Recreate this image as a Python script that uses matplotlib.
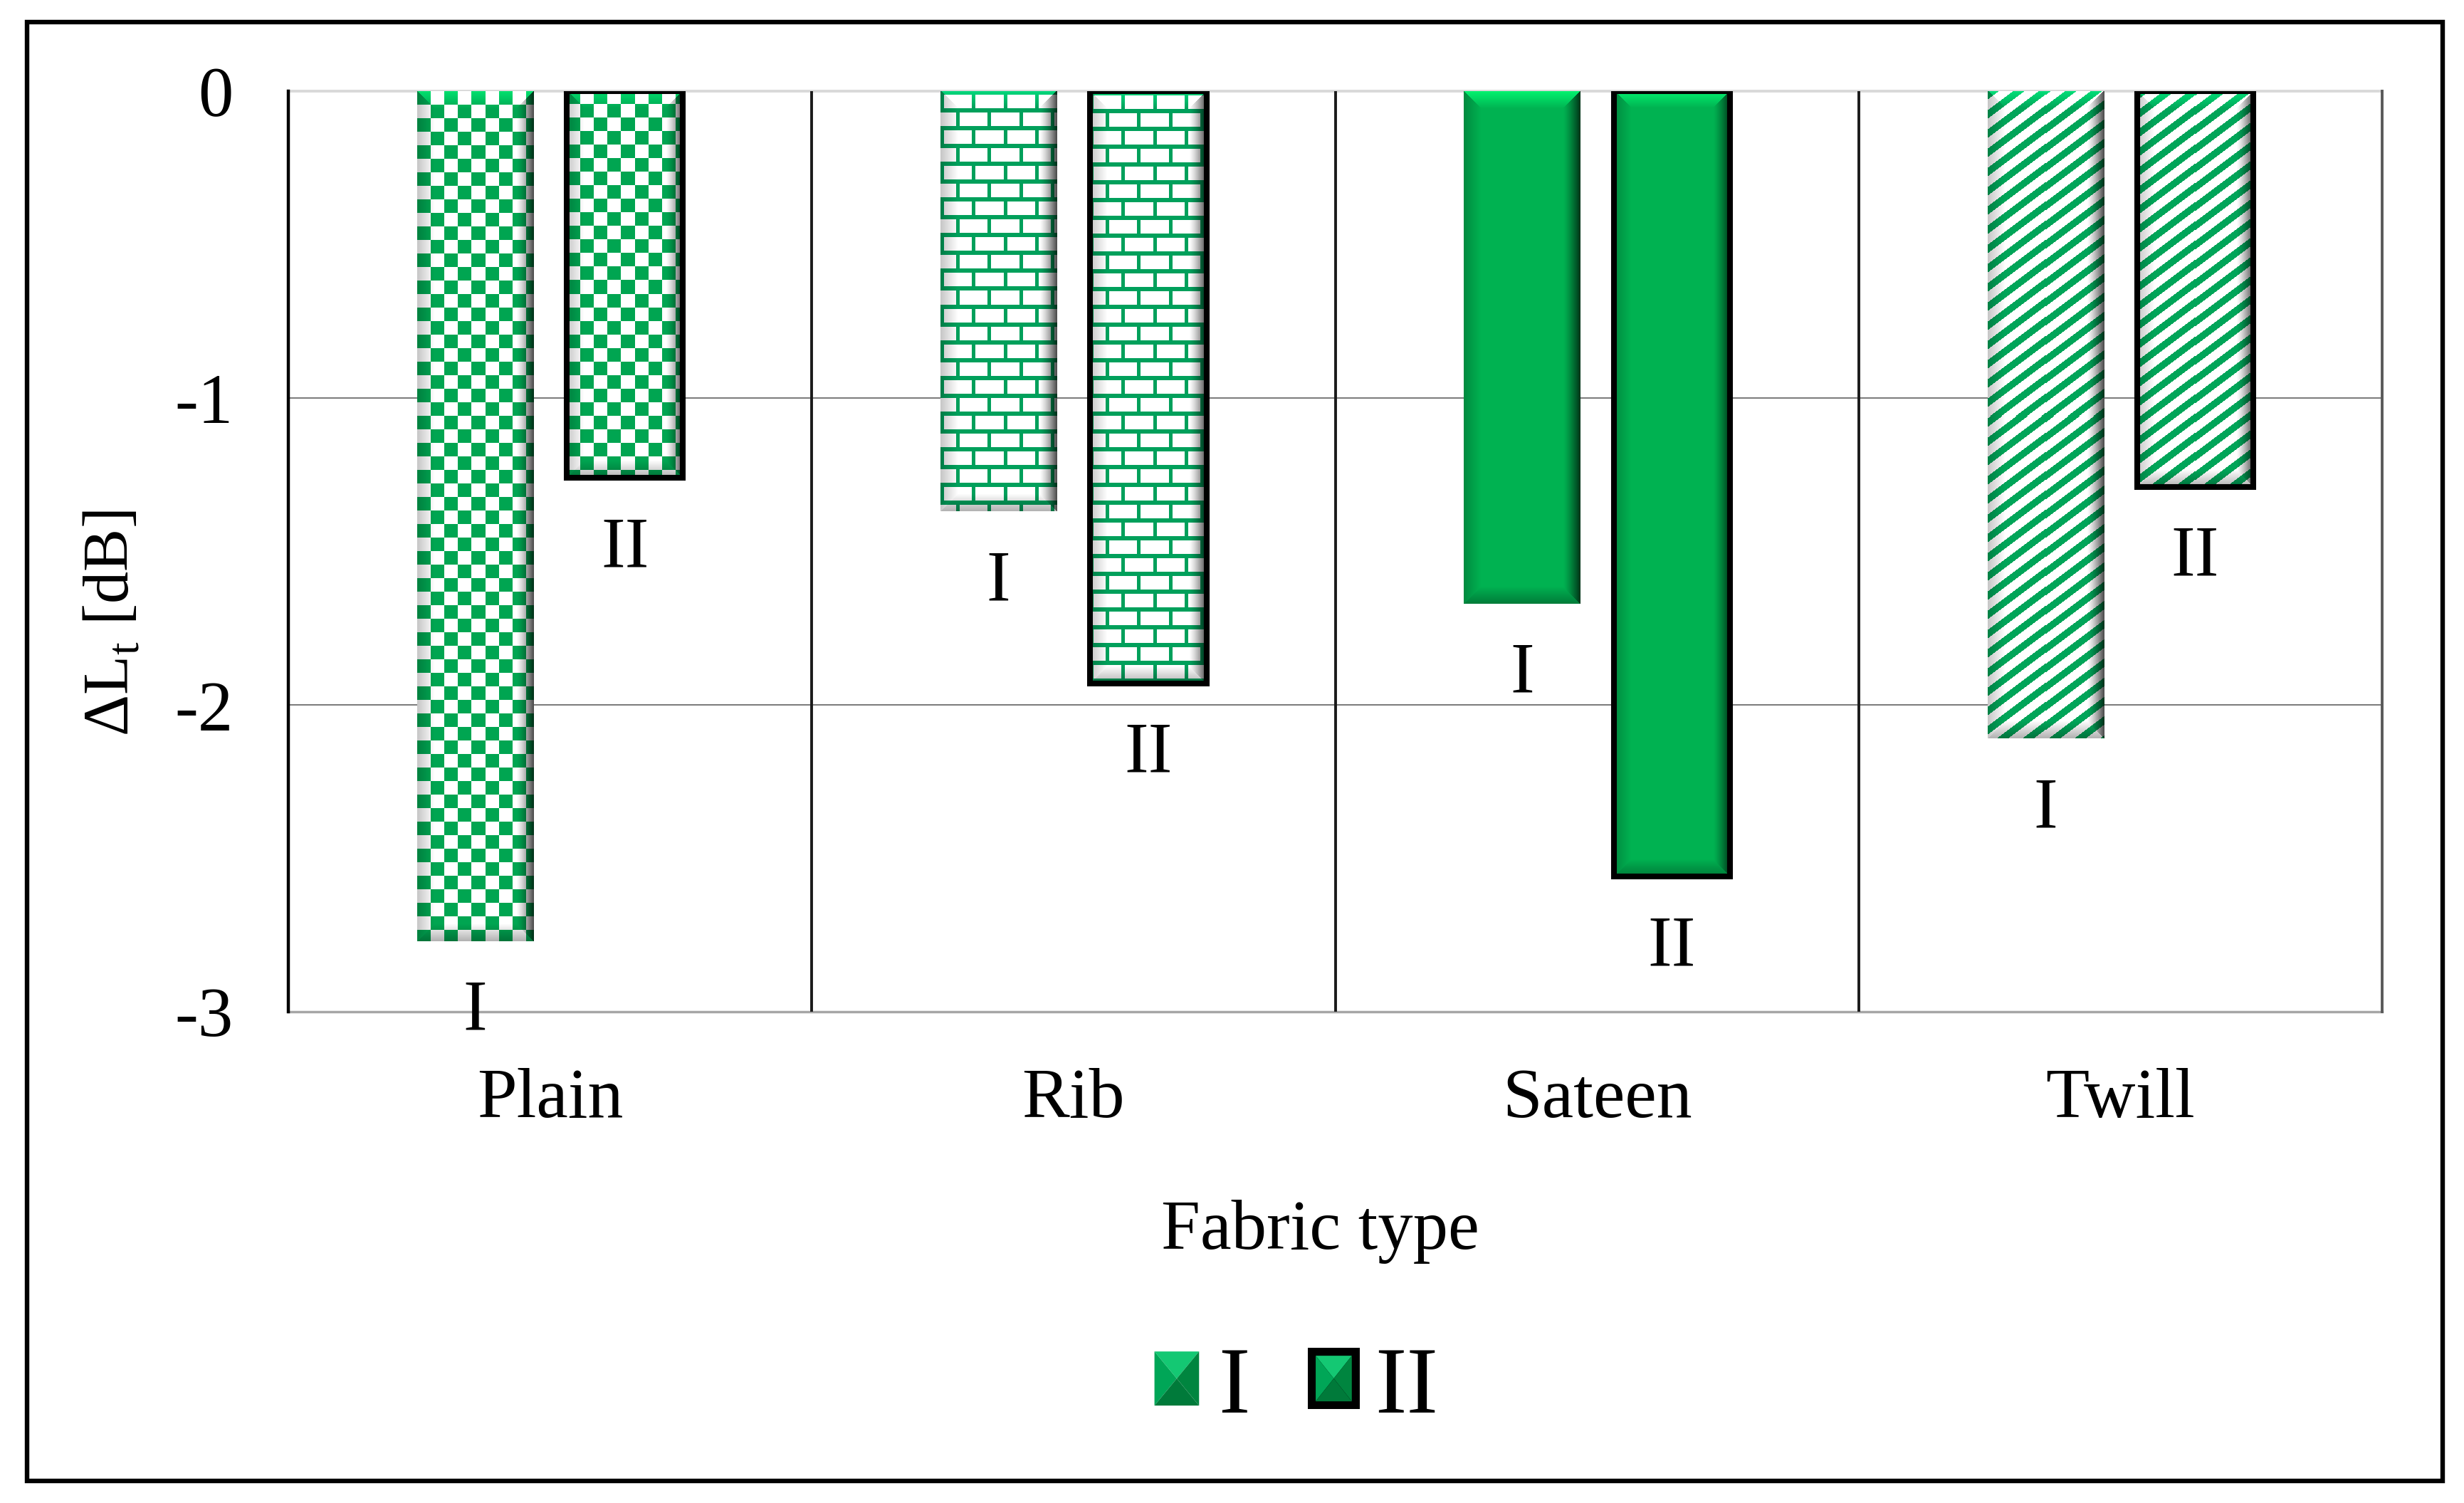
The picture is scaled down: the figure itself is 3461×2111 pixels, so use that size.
import numpy as np
import matplotlib
matplotlib.use('Agg')
import matplotlib.pyplot as plt
from matplotlib.patches import Rectangle, Polygon

plt.rcParams['font.family'] = ['Liberation Serif', 'DejaVu Serif']
plt.rcParams['mathtext.fontset'] = 'custom'
plt.rcParams['mathtext.rm'] = 'Liberation Serif'

# data
fabrics = ['Plain', 'Rib', 'Sateen', 'Twill']
series_names = ['I', 'II']
dlt_I = [-2.77, -1.37, -1.67, -2.11]
dlt_II = [-1.26, -1.93, -2.56, -1.29]
y_ticks = [-3, -2, -1, 0]
y_tick_labels = ['-3', '-2', '-1', '0']

fill_styles = ['checker', 'brick', 'solid', 'stripe']
green = {'checker': (0.0, 0.65, 0.32), 'brick': (0.0, 0.63, 0.36),
         'solid': (0.0, 0.70, 0.32), 'stripe': (0.0, 0.65, 0.35)}

W, H = 3461, 2111
fig = plt.figure(figsize=(W / 100, H / 100), dpi=100)
ax = fig.add_axes([405 / W, 1 - 1421 / H, (3346 - 405) / W, (1421 - 128) / H])
ax.set_xlim(-0.5, 3.5)
ax.set_ylim(-3, 0)


def pattern_mask(kind, r, c):
    if kind == 'checker':
        return ((r // 19 + c // 19) % 2 == 0)
    if kind == 'brick':
        row = r // 25
        return (r % 25 < 6) | (((c + (row % 2) * 22) % 44) < 5)
    if kind == 'stripe':
        u = r + 0.75 * c
        return (u % 27) < 12
    return np.ones_like(r + c, dtype=bool)


def bar_image(kind, hpx, wpx, b=24):
    r = np.arange(hpx)[:, None] + np.zeros((1, wpx), dtype=int)
    c = np.arange(wpx)[None, :] + np.zeros((hpx, 1), dtype=int)
    m = pattern_mask(kind, r, c)[..., None]
    g = np.array(green[kind])
    img = np.where(m, g, np.array([1.0, 1.0, 1.0]))
    d = np.stack([c, wpx - 1 - c, r, hpx - 1 - r]).astype(float)
    side = np.argmin(d, axis=0)
    t = np.clip(1 - d.min(axis=0) / b, 0, 1)
    mult = np.ones((hpx, wpx))
    mult = np.where(side == 0, 1 - 0.22 * t, mult)
    mult = np.where(side == 1, 1 - 0.70 * t ** 1.3, mult)
    mult = np.where(side == 3, 1 - 0.30 * t, mult)
    mult = np.where(side == 2, 1 + 0.35 * t, mult)
    img = np.clip(img * mult[..., None], 0, 1)
    return img


# gridlines and frame lines
for yv in [-1, -2]:
    ax.axhline(yv, color='#6e6e6e', lw=1.3, zorder=0.5)
ax.axhline(0, color='#d9d9d9', lw=2.8, zorder=0.6, clip_on=False)
ax.axhline(-3, color='#a6a6a6', lw=2.5, zorder=0.6, clip_on=False)
for xv in [0.5, 1.5, 2.5]:
    ax.axvline(xv, color='#1a1a1a', lw=2.8, zorder=0.7)
ax.axvline(3.5, color='#595959', lw=2.8, zorder=0.7, clip_on=False)
for s in ['top', 'right', 'bottom']:
    ax.spines[s].set_visible(False)
ax.spines['left'].set_color('black')
ax.spines['left'].set_linewidth(3.2)
ax.spines['left'].set_zorder(4)

x = np.arange(len(fabrics))
off = 0.143
bw = 0.222
bars_I = ax.bar(x - off, dlt_I, bw, facecolor='none', edgecolor='none', zorder=3)
bars_II = ax.bar(x + off, dlt_II, bw, facecolor='none', edgecolor='black', linewidth=5.8, zorder=3)

for bars in [bars_I, bars_II]:
    for i, bar in enumerate(bars):
        x0, x1 = bar.get_x(), bar.get_x() + bar.get_width()
        y0, y1 = 0, bar.get_height()
        p = ax.transData.transform([[x0, y0], [x1, y1]])
        wpx = int(round(abs(p[1, 0] - p[0, 0])))
        hpx = int(round(abs(p[1, 1] - p[0, 1])))
        img = bar_image(fill_styles[i], hpx, wpx)
        ax.imshow(img, extent=(x0, x1, y1, y0), origin='upper', aspect='auto',
                  interpolation='nearest', zorder=2)

ax.set_xlim(-0.5, 3.5)
ax.set_ylim(-3, 0)

for bars, name in zip([bars_I, bars_II], series_names):
    for bar in bars:
        ax.annotate(name, (bar.get_x() + bar.get_width() / 2, bar.get_height()),
                    xytext=(0, -90), textcoords='offset points', ha='center',
                    va='baseline', fontsize=73)

ax.set_xticks(x, fabrics)
ax.set_yticks(y_ticks, y_tick_labels)
ax.tick_params(axis='x', length=0, pad=57, labelsize=72)
ax.tick_params(axis='y', length=0, pad=56, labelsize=71)

fig.text(158 / W, 1 - 875 / H, r'ΔL$_\mathregular{t}$ [dB]', rotation=90,
         ha='center', va='center', fontsize=65)
fig.text(1854 / W, 1 - 1754 / H, 'Fabric type', ha='center', va='baseline', fontsize=71)


class PyramidHandler:
    def __init__(self, framed):
        self.framed = framed

    def legend_artist(self, legend, orig_handle, fontsize, handlebox):
        x0, y0 = -handlebox.xdescent, -handlebox.ydescent
        w, h = handlebox.width, handlebox.height
        tr = handlebox.get_transform()
        if self.framed:
            d = 3.6
            handlebox.add_artist(Rectangle((x0 - d, y0 - d), w + 2 * d, h + 2 * d,
                                           facecolor='black', edgecolor='none', transform=tr))
            k = 4.3
            x0, y0, w, h = x0 + k, y0 + k, w - 2 * k, h - 2 * k
        cx, cy = x0 + w / 2, y0 + h / 2
        faces = [
            ([(x0, y0 + h), (x0 + w, y0 + h), (cx, cy)], '#14c873'),
            ([(x0, y0), (x0, y0 + h), (cx, cy)], '#00a657'),
            ([(x0 + w, y0), (x0 + w, y0 + h), (cx, cy)], '#00853f'),
            ([(x0, y0), (x0 + w, y0), (cx, cy)], '#007a3a'),
        ]
        last = None
        for pts, col in faces:
            last = Polygon(pts, closed=True, facecolor=col, edgecolor='none', transform=tr)
            handlebox.add_artist(last)
        return last


h1 = Rectangle((0, 0), 1, 1)
h2 = Rectangle((0, 0), 1, 1)
fig.legend([h1, h2], series_names, handler_map={h1: PyramidHandler(False), h2: PyramidHandler(True)},
           loc='center', bbox_to_anchor=(1821 / W, 1 - 1951 / H), ncol=2, frameon=False,
           fontsize=96, handlelength=0.47, handleheight=0.5, handletextpad=0.2,
           columnspacing=0.65, borderpad=0, borderaxespad=0)

fig.patches.append(Rectangle((38 / W, 1 - 2080 / H), (3431 - 38) / W, (2080 - 31) / H,
                             transform=fig.transFigure, fill=False, edgecolor='black', lw=4.6))

fig.savefig('out.png', dpi=100, facecolor='white')
